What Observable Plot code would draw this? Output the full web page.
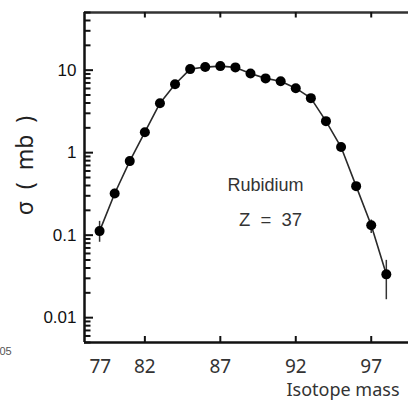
<!DOCTYPE html>
<html><head><meta charset="utf-8">
<script src="https://cdn.jsdelivr.net/npm/d3@7"></script>
<script src="https://cdn.jsdelivr.net/npm/@observablehq/plot@0.6"></script>
<style>html,body{margin:0;padding:0;background:#fff} svg{display:block}</style>
</head><body><div id="chart"></div><script>
// Isotope masses and cross sections (mb)
const masses = [79,80,81,82,83,84,85,86,87,88,89,90,91,92,93,94,95,96,97,98];
const sigma  = [0.112,0.32,0.79,1.77,3.98,6.76,10.3,10.9,11.2,10.8,9.1,7.95,7.35,6.05,4.58,2.41,1.17,0.393,0.132,0.0335];
const errLo  = [0.082,0.29,0.68,1.6,3.6,6.3,9.8,10.4,10.7,10.3,8.1,7.5,7.0,5.6,4.3,2.25,1.07,0.355,0.105,0.0165];
const errHi  = [0.147,0.36,0.88,1.95,4.4,7.2,10.8,11.4,11.7,11.3,10.1,8.5,7.7,6.5,4.9,2.6,1.28,0.435,0.153,0.0495];

const xTicks = [82,87,92,97];
const xTickLabels = ["82","87","92","97"];
const xFirstLabel = "77";
const yTicks = [0.01,0.1,1,10];
const yTickLabels = ["0.01","0.1","1","10"];
const xDomain = [78, 99.47];
const yDomain = [0.005, 50];
const element = "Rubidium";
const zText = "Z  =  37";
const xTitle = "Isotope mass";
const yTitle = "σ  (  mb  )";
const strayText = "05";

const data = masses.map((m,i)=>({m, s: sigma[i], lo: errLo[i], hi: errHi[i]}));

const minor = [];
for (let e = -3; e <= 1; e++) for (let k = 2; k <= 9; k++) {
  const v = k * Math.pow(10, e);
  if (v >= yDomain[0] && v <= yDomain[1]) minor.push(+v.toPrecision(3));
}

const W = 408, H = 402, mL = 84, mR = 0, mT = 12, mB = 60;
const plotW = W - mL - mR, plotH = H - mT - mB;
const sans = "'Noto Sans', 'Open Sans', sans-serif";
const arial = "'Liberation Sans', Arial, sans-serif";
const ink = "#111";

const chart = Plot.plot({
  width: W, height: H,
  marginLeft: mL, marginRight: mR, marginTop: mT, marginBottom: mB,
  x: {domain: xDomain, label: null, axis: null},
  y: {type: "log", domain: yDomain, label: null, axis: null},
  marks: [
    // frame lines
    Plot.ruleX([xDomain[0]], {stroke: ink, strokeWidth: 2.5}),
    Plot.ruleY([yDomain[0]], {stroke: ink, strokeWidth: 2.5}),
    Plot.ruleY([yDomain[1]], {stroke: "#333", strokeWidth: 2.5}),
    // minor and major y ticks, pointing inward from the left axis
    Plot.ruleY(minor, {insetRight: plotW - 6.5, stroke: ink, strokeWidth: 2}),
    Plot.ruleY(yTicks, {insetRight: plotW - 9, stroke: ink, strokeWidth: 2}),
    // y tick labels
    Plot.text(yTicks, {x: () => xDomain[0], y: d => d, text: (d, i) => yTickLabels[i], dx: -8, textAnchor: "end", lineAnchor: "middle", fontSize: 17, fontFamily: arial, fill: ink}),
    // x ticks bottom (inward) and top (inward)
    Plot.ruleX(xTicks, {insetTop: plotH - 6, stroke: ink, strokeWidth: 2}),
    Plot.ruleX(xTicks, {insetBottom: plotH - 5.5, stroke: ink, strokeWidth: 2}),
    // x tick labels
    Plot.text(xTicks, {x: d => d, y: () => yDomain[0], text: (d, i) => xTickLabels[i], dy: 24, lineAnchor: "middle", fontSize: 19, fontFamily: sans, fill: "#333"}),
    Plot.text([xFirstLabel], {frameAnchor: "bottom-left", dx: 5, dy: 24, fontSize: 19, fontFamily: sans, fill: "#333", lineAnchor: "middle"}),
    // error bars
    Plot.ruleX(data, {x: "m", y1: "lo", y2: "hi", stroke: "#333", strokeWidth: 1.5}),
    // connecting line
    Plot.line(data, {x: "m", y: "s", stroke: "#2a2a2a", strokeWidth: 1.6}),
    // points
    Plot.dot(data, {x: "m", y: "s", r: 5, fill: "#000", stroke: "none"}),
    // annotations
    Plot.text([element], {frameAnchor: "top-left", dx: 181, dy: 173, fontSize: 18, fontFamily: arial, fill: "#333", textAnchor: "middle", lineAnchor: "middle"}),
    Plot.text([zText], {frameAnchor: "top-left", dx: 186, dy: 208, fontSize: 18.5, fontFamily: arial, fill: "#333", textAnchor: "middle", lineAnchor: "middle"}),
    Plot.text([xTitle], {frameAnchor: "bottom-right", dx: -9, dy: 48, fontSize: 18, fontFamily: sans, fill: "#333", textAnchor: "end", lineAnchor: "middle"}),
    Plot.text([yTitle], {frameAnchor: "left", dx: -59, dy: -12, rotate: -90, fontSize: 23, fontFamily: sans, fill: "#222", textAnchor: "middle", lineAnchor: "middle"}),
    Plot.text([strayText], {frameAnchor: "bottom-left", dx: -79, dy: 9, fontSize: 11, fontFamily: arial, fill: "#555", textAnchor: "middle", lineAnchor: "middle"})
  ]
});
chart.querySelectorAll("text").forEach(t => t.style.whiteSpace = "pre");
document.getElementById("chart").append(chart);
</script></body></html>
